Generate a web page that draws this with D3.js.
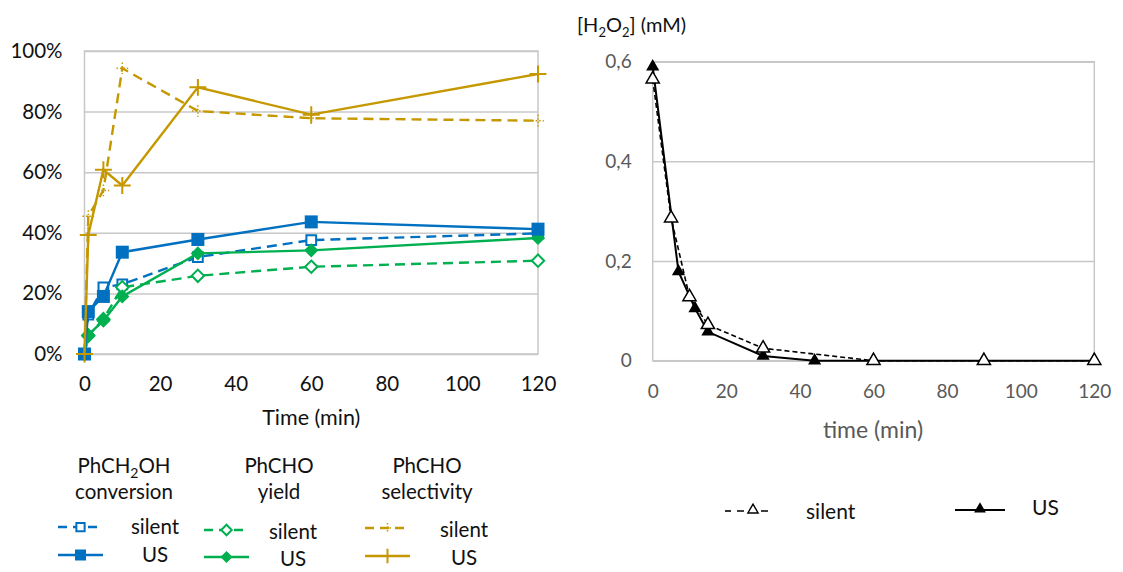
<!DOCTYPE html>
<html>
<head>
<meta charset="utf-8">
<script src="https://cdn.jsdelivr.net/npm/d3@7"></script>
<style>
  body { margin: 0; background: #fff; }
  text { font-family: Lato, "Open Sans", sans-serif; }
</style>
</head>
<body>
<script>
// left chart: time points (min) and percentages
const timeLeft = [0, 1, 5, 10, 30, 60, 120];
const convSilent = [0, 13, 22, 23, 32, 37.6, 39.8];
const convUS = [0, 14, 19, 33.6, 37.8, 43.6, 41.2];
const yieldSilent = [0, 6, 11.5, 22, 25.8, 28.8, 30.8];
const yieldUS = [0, 6.3, 11, 19, 33.2, 34.2, 38.3];
const selSilent = [0, 45.5, 54, 94.3, 80.2, 77.8, 77];
const selUS = [0, 39.3, 60.8, 55.6, 88, 79, 92.4];
const leftYTicks = [0, 20, 40, 60, 80, 100];
const leftXTicks = [0, 20, 40, 60, 80, 100, 120];

// right chart: H2O2 concentration (mM)
const h2o2SilentTime = [0, 5, 10, 15, 30, 60, 90, 120];
const h2o2Silent = [0.565, 0.286, 0.128, 0.072, 0.025, 0, 0, 0];
const h2o2USTime = [0, 7, 11.5, 15, 30, 44, 60, 90, 120];
const h2o2US = [0.59, 0.179, 0.105, 0.058, 0.0095, 0, 0, 0, 0];
const rightYTicks = [0, 0.2, 0.4, 0.6];
const rightXTicks = [0, 20, 40, 60, 80, 100, 120];

const blue = "#0070c0", green = "#00b050", gold = "#c59800", grid = "#c8c8c8";

const svg = d3.select("body").append("svg")
    .attr("width", 1123)
    .attr("height", 572);

// ---------- left chart ----------
var x1 = d3.scaleLinear().domain([0, 120]).range([84.5, 538]);
var y1 = d3.scaleLinear().domain([0, 100]).range([354, 51]);

var left = svg.append("g");

left.append("g")
    .attr("transform", "translate(84.5,0)")
    .call(d3.axisLeft(y1).tickValues(leftYTicks).tickSize(-(538 - 84.5)).tickPadding(22)
      .tickFormat(function(d) { return d + "%"; }))
    .call(function(g) {
      g.select(".domain").remove();
      g.selectAll(".tick line").attr("stroke", grid).attr("stroke-width", 1.5);
      g.selectAll(".tick text").attr("font-size", 20.5).attr("fill", "#111");
    });

left.append("g")
    .attr("transform", "translate(0,354)")
    .call(d3.axisBottom(x1).tickValues(leftXTicks).tickSize(0).tickPadding(22))
    .call(function(g) {
      g.select(".domain").remove();
      g.selectAll(".tick text").attr("font-size", 20.5).attr("fill", "#111");
    });

left.append("rect")
    .attr("x", x1(0)).attr("y", y1(100))
    .attr("width", x1(120) - x1(0)).attr("height", y1(0) - y1(100))
    .attr("fill", "none").attr("stroke", grid).attr("stroke-width", 1.5);

left.append("text")
    .attr("x", (x1(0) + x1(120)) / 2).attr("y", 425)
    .attr("text-anchor", "middle").attr("font-size", 21.5).attr("fill", "#111")
    .text("Time (min)");

// marker paths
function squarePath(s) { return "M" + (-s) + "," + (-s) + "H" + s + "V" + s + "H" + (-s) + "Z"; }
function diamondPath(s) { return "M0," + (-s) + "L" + s + ",0L0," + s + "L" + (-s) + ",0Z"; }
function plusPath(s) { return "M" + (-s) + ",0H" + s + "M0," + (-s) + "V" + s; }

var leftSeries = [
  {vals: selSilent, color: gold, dash: "10,6", marker: "plus", open: true},
  {vals: convSilent, color: blue, dash: "10,6", marker: "square", open: true},
  {vals: yieldSilent, color: green, dash: "10,6", marker: "diamond", open: true},
  {vals: yieldUS, color: green, dash: null, marker: "diamond", open: false},
  {vals: convUS, color: blue, dash: null, marker: "square", open: false},
  {vals: selUS, color: gold, dash: null, marker: "plus", open: false}
];

var line1 = d3.line()
    .x(function(d, i) { return x1(timeLeft[i]); })
    .y(function(d) { return y1(d); });

function drawMarker(g, s, size) {
  if (s.marker == "square") {
    g.append("path").attr("d", squarePath(s.open ? size * 0.75 : size))
      .attr("fill", s.open ? "#fff" : s.color)
      .attr("stroke", s.color).attr("stroke-width", s.open ? 2 : 0);
  } else if (s.marker == "diamond") {
    g.append("path").attr("d", diamondPath(s.open ? size * 0.95 : size * 1.1))
      .attr("fill", s.open ? "#fff" : s.color)
      .attr("stroke", s.color).attr("stroke-width", s.open ? 2 : 0);
  } else {
    g.append("path").attr("d", plusPath(s.open ? size * 0.9 : size * 1.3))
      .attr("fill", "none").attr("stroke", s.color)
      .attr("stroke-width", s.open ? 1.5 : 2)
      .attr("stroke-dasharray", s.open ? "1.5,2" : null);
  }
}

leftSeries.forEach(function(s) {
  left.append("path")
      .datum(s.vals)
      .attr("d", line1)
      .attr("fill", "none")
      .attr("stroke", s.color)
      .attr("stroke-width", 2.4)
      .attr("stroke-dasharray", s.dash);
  s.vals.forEach(function(v, i) {
    var g = left.append("g").attr("transform", "translate(" + x1(timeLeft[i]) + "," + y1(v) + ")");
    drawMarker(g, s, 6.5);
  });
});

// left legend
var legCols = [
  {cx: 124, lines: [["PhCH", "2", "OH"], ["conversion"]], color: blue, marker: "square", sx: 58, ex: 103, tx: 155, ys: [527, 555], ty: [527, 555]},
  {cx: 279, lines: [["PhCHO"], ["yield"]], color: green, marker: "diamond", sx: 204, ex: 249, tx: 293, ys: [530, 557], ty: [532, 559]},
  {cx: 427, lines: [["PhCHO"], ["selectivity"]], color: gold, marker: "plus", sx: 365, ex: 410, tx: 464, ys: [528, 556], ty: [530, 558]}
];

legCols.forEach(function(c) {
  c.lines.forEach(function(parts, li) {
    var t = left.append("text")
        .attr("x", c.cx).attr("y", 473 + li * 26)
        .attr("text-anchor", "middle").attr("font-size", 20.5).attr("fill", "#111");
    parts.forEach(function(p, pi) {
      var ts = t.append("tspan").text(p);
      if (pi == 1) ts.attr("font-size", 14).attr("dy", 5);
      if (pi == 2) ts.attr("dy", -5);
    });
  });
  ["silent", "US"].forEach(function(name, k) {
    var s = {color: c.color, marker: c.marker, open: k == 0};
    left.append("line")
        .attr("x1", c.sx).attr("x2", c.ex).attr("y1", c.ys[k]).attr("y2", c.ys[k])
        .attr("stroke", c.color).attr("stroke-width", 2.4)
        .attr("stroke-dasharray", k == 0 ? "9,6" : null);
    var g = left.append("g").attr("transform", "translate(" + ((c.sx + c.ex) / 2) + "," + c.ys[k] + ")");
    drawMarker(g, s, 5.5);
    left.append("text")
        .attr("x", c.tx).attr("y", c.ty[k]).attr("dy", "0.35em")
        .attr("text-anchor", "middle").attr("font-size", 20.5).attr("fill", "#111")
        .text(name);
  });
});

// ---------- right chart ----------
var x2 = d3.scaleLinear().domain([0, 120]).range([652.7, 1094.3]);
var y2 = d3.scaleLinear().domain([0, 0.6]).range([360.7, 61.7]);
var fmt = function(d) { return d == 0 ? "0" : d3.format(".1f")(d).replace(".", ","); };

var right = svg.append("g");

right.append("g")
    .attr("transform", "translate(652.7,0)")
    .call(d3.axisLeft(y2).tickValues(rightYTicks).tickSize(-(1094.3 - 652.7)).tickPadding(21).tickFormat(fmt))
    .call(function(g) {
      g.select(".domain").remove();
      g.selectAll(".tick line").attr("stroke", grid).attr("stroke-width", 1.5);
      g.selectAll(".tick text").attr("font-size", 19).attr("fill", "#595959");
    });

right.append("g")
    .attr("transform", "translate(0,360.7)")
    .call(d3.axisBottom(x2).tickValues(rightXTicks).tickSize(0).tickPadding(24))
    .call(function(g) {
      g.select(".domain").remove();
      g.selectAll(".tick text").attr("font-size", 19).attr("fill", "#595959");
    });

right.append("rect")
    .attr("x", x2(0)).attr("y", y2(0.6))
    .attr("width", x2(120) - x2(0)).attr("height", y2(0) - y2(0.6))
    .attr("fill", "none").attr("stroke", grid).attr("stroke-width", 1.5);

right.append("text")
    .attr("x", 873).attr("y", 438)
    .attr("text-anchor", "middle").attr("font-size", 23).attr("fill", "#595959")
    .text("time (min)");

var yt = right.append("text")
    .attr("x", 577).attr("y", 32).attr("font-size", 20).attr("fill", "#111");
yt.append("tspan").text("[H");
yt.append("tspan").text("2").attr("font-size", 13).attr("dy", 5);
yt.append("tspan").text("O").attr("dy", -5);
yt.append("tspan").text("2").attr("font-size", 13).attr("dy", 5);
yt.append("tspan").text("] (mM)").attr("dy", -5);

var tri = d3.symbol().type(d3.symbolTriangle).size(75);

right.append("path")
    .datum(h2o2US)
    .attr("d", d3.line().x(function(d, i) { return x2(h2o2USTime[i]); }).y(function(d) { return y2(d); }))
    .attr("fill", "none").attr("stroke", "#000").attr("stroke-width", 2);

right.append("path")
    .datum(h2o2Silent)
    .attr("d", d3.line().x(function(d, i) { return x2(h2o2SilentTime[i]); }).y(function(d) { return y2(d); }))
    .attr("fill", "none").attr("stroke", "#000").attr("stroke-width", 1.6).attr("stroke-dasharray", "5,3");

right.selectAll(".us")
    .data(h2o2US)
    .enter().append("path")
    .attr("transform", function(d, i) { return "translate(" + x2(h2o2USTime[i]) + "," + y2(d) + ")"; })
    .attr("d", tri).attr("fill", "#000");

right.selectAll(".silent")
    .data(h2o2Silent)
    .enter().append("path")
    .attr("transform", function(d, i) { return "translate(" + x2(h2o2SilentTime[i]) + "," + y2(d) + ")"; })
    .attr("d", tri).attr("fill", "#fff").attr("stroke", "#000").attr("stroke-width", 1.5);

// right legend
right.append("line").attr("x1", 725).attr("x2", 731).attr("y1", 511).attr("y2", 511)
    .attr("stroke", "#000").attr("stroke-width", 1.6);
right.append("line").attr("x1", 737).attr("x2", 770).attr("y1", 511).attr("y2", 511)
    .attr("stroke", "#000").attr("stroke-width", 1.6).attr("stroke-dasharray", "7,5");
right.append("path").attr("transform", "translate(753,510)")
    .attr("d", d3.symbol().type(d3.symbolTriangle).size(45))
    .attr("fill", "#fff").attr("stroke", "#000").attr("stroke-width", 1.4);
right.append("text").attr("x", 806).attr("y", 512).attr("dy", "0.35em")
    .attr("font-size", 21).attr("fill", "#111").text("silent");

right.append("line").attr("x1", 955).attr("x2", 1005).attr("y1", 510).attr("y2", 510)
    .attr("stroke", "#000").attr("stroke-width", 2);
right.append("path").attr("transform", "translate(980,509)")
    .attr("d", d3.symbol().type(d3.symbolTriangle).size(60)).attr("fill", "#000");
right.append("text").attr("x", 1032).attr("y", 508).attr("dy", "0.35em")
    .attr("font-size", 21).attr("fill", "#111").text("US");
</script>
</body>
</html>
